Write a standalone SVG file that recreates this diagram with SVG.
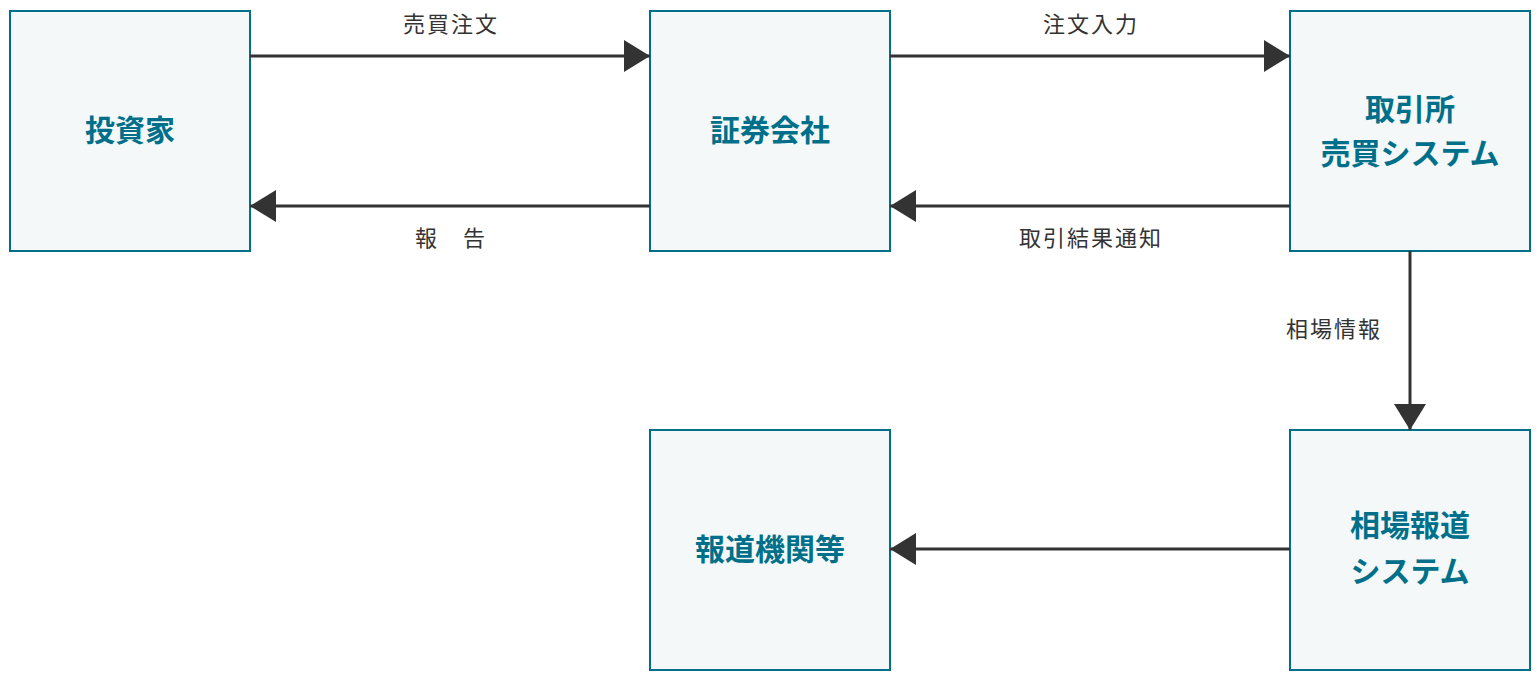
<svg xmlns="http://www.w3.org/2000/svg" width="1540" height="680" viewBox="0 0 1540 680">
<style>
.box{fill:#f4f8f9;stroke:#00708a;stroke-width:2}
.nt{font-family:"Noto Sans CJK JP","Noto Sans",sans-serif;font-size:30px;font-weight:bold;fill:#00708a;text-anchor:middle}
.lt{font-family:"Noto Sans CJK JP","Noto Sans",sans-serif;font-size:22px;fill:#333;text-anchor:middle;letter-spacing:2px}
.ln{stroke:#333;stroke-width:3;fill:none}
</style>
<defs>
<marker id="ah" markerUnits="userSpaceOnUse" markerWidth="26" markerHeight="32" refX="26" refY="16" orient="auto">
<path d="M0,0 L26,16 L0,32 Z" fill="#333"/>
</marker>
</defs>
<rect width="1540" height="680" fill="#fff"/>
<g id="investor"><rect class="box" x="10" y="11" width="240" height="240"/><text class="nt" x="130" y="141">投資家</text></g>
<g id="broker"><rect class="box" x="650" y="11" width="240" height="240"/><text class="nt" x="770" y="141">証券会社</text></g>
<g id="exchange"><rect class="box" x="1290" y="11" width="240" height="240"/><text class="nt" x="1410" y="120">取引所</text><text class="nt" x="1410" y="164">売買システム</text></g>
<g id="market-report"><rect class="box" x="1290" y="430" width="240" height="240"/><text class="nt" x="1410" y="536">相場報道</text><text class="nt" x="1410" y="582">システム</text></g>
<g id="media"><rect class="box" x="650" y="430" width="240" height="240"/><text class="nt" x="770" y="560">報道機関等</text></g>
<g id="connectors">
<line class="ln" x1="250" y1="56" x2="650" y2="56" marker-end="url(#ah)"/>
<line class="ln" x1="650" y1="206" x2="250" y2="206" marker-end="url(#ah)"/>
<line class="ln" x1="890" y1="56" x2="1290" y2="56" marker-end="url(#ah)"/>
<line class="ln" x1="1290" y1="206" x2="890" y2="206" marker-end="url(#ah)"/>
<line class="ln" x1="1410" y1="251" x2="1410" y2="430" marker-end="url(#ah)"/>
<line class="ln" x1="1290" y1="549" x2="890" y2="549" marker-end="url(#ah)"/>
<text class="lt" x="451" y="32">売買注文</text>
<text class="lt" x="451" y="246">報　告</text>
<text class="lt" x="1091" y="32">注文入力</text>
<text class="lt" x="1091" y="246">取引結果通知</text>
<text class="lt" x="1334" y="337">相場情報</text>
</g>
</svg>
